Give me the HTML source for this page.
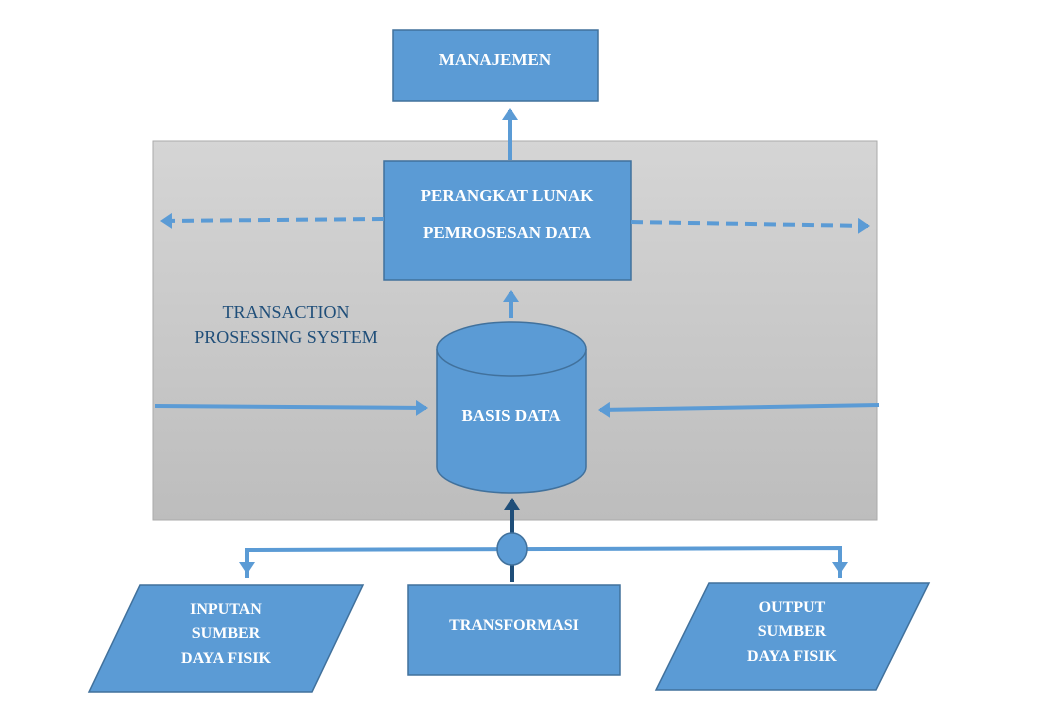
<!DOCTYPE html>
<html><head><meta charset="utf-8"><style>
html,body{margin:0;padding:0;background:#fff;}
svg{display:block;}
text{font-family:"Liberation Serif",serif;}
</style></head><body>
<svg width="1049" height="703" viewBox="0 0 1049 703" xmlns="http://www.w3.org/2000/svg">
<defs>
<linearGradient id="g" x1="0" y1="0" x2="0" y2="1">
<stop offset="0" stop-color="#d5d5d5"/><stop offset="1" stop-color="#bdbdbd"/>
</linearGradient>
<marker id="a" markerWidth="4" markerHeight="4" refX="2.5" refY="2" orient="auto" markerUnits="strokeWidth">
<path d="M0,0 L3,2 L0,4 z" fill="#5b9bd5"/></marker>
<marker id="ad" markerWidth="4" markerHeight="4" refX="2.5" refY="2" orient="auto" markerUnits="strokeWidth">
<path d="M0,0 L3,2 L0,4 z" fill="#1f4e79"/></marker>
</defs>
<rect x="153" y="141" width="724" height="379" fill="url(#g)" stroke="#aaa" stroke-width="1"/>
<!-- manajemen -->
<rect x="393" y="30" width="205" height="71" fill="#5b9bd5" stroke="#41719c" stroke-width="1.5"/>
<text x="495" y="65" text-anchor="middle" fill="#fff" font-weight="bold" font-size="17">MANAJEMEN</text>
<line x1="510" y1="160" x2="510" y2="110" stroke="#5b9bd5" stroke-width="4" marker-end="url(#a)"/>
<!-- perangkat -->
<rect x="384" y="161" width="247" height="119" fill="#5b9bd5" stroke="#41719c" stroke-width="1.5"/>
<text x="507" y="201" text-anchor="middle" fill="#fff" font-weight="bold" font-size="17">PERANGKAT LUNAK</text>
<text x="507" y="238" text-anchor="middle" fill="#fff" font-weight="bold" font-size="17">PEMROSESAN DATA</text>
<line x1="384" y1="219" x2="162" y2="221" stroke="#5b9bd5" stroke-width="4" stroke-dasharray="12,7" marker-end="url(#a)"/>
<line x1="631" y1="222" x2="868" y2="226" stroke="#5b9bd5" stroke-width="4" stroke-dasharray="12,7" marker-end="url(#a)"/>
<line x1="511" y1="318" x2="511" y2="292" stroke="#5b9bd5" stroke-width="4" marker-end="url(#a)"/>
<text x="286" y="318" text-anchor="middle" fill="#1f4e79" font-size="18">TRANSACTION</text>
<text x="286" y="343" text-anchor="middle" fill="#1f4e79" font-size="18">PROSESSING SYSTEM</text>
<!-- cylinder -->
<path d="M437,349 L437,467 A74.5,26 0 0 0 586,467 L586,349" fill="#5b9bd5" stroke="#41719c" stroke-width="1.5"/>
<ellipse cx="511.5" cy="349" rx="74.5" ry="27" fill="#5b9bd5" stroke="#41719c" stroke-width="1.5"/>
<text x="511" y="421" text-anchor="middle" fill="#fff" font-weight="bold" font-size="17">BASIS DATA</text>
<line x1="155" y1="406" x2="426" y2="408" stroke="#5b9bd5" stroke-width="4" marker-end="url(#a)"/>
<line x1="879" y1="405" x2="600" y2="410" stroke="#5b9bd5" stroke-width="4" marker-end="url(#a)"/>
<!-- bottom connectors -->
<line x1="512" y1="582" x2="512" y2="500" stroke="#1f4e79" stroke-width="4" marker-end="url(#ad)"/>
<polyline points="247,578 247,550 840,548 840,578" fill="none" stroke="#5b9bd5" stroke-width="4"/>
<line x1="247" y1="560" x2="247" y2="572" stroke="#5b9bd5" stroke-width="4" marker-end="url(#a)"/>
<line x1="840" y1="560" x2="840" y2="572" stroke="#5b9bd5" stroke-width="4" marker-end="url(#a)"/>
<ellipse cx="512" cy="549" rx="15" ry="16" fill="#5b9bd5" stroke="#41719c" stroke-width="1.5"/>
<!-- shapes -->
<polygon points="140,585 363,585 312,692 89,692" fill="#5b9bd5" stroke="#41719c" stroke-width="1.5"/>
<text x="226" y="614" text-anchor="middle" fill="#fff" font-weight="bold" font-size="16">INPUTAN</text>
<text x="226" y="638" text-anchor="middle" fill="#fff" font-weight="bold" font-size="16">SUMBER</text>
<text x="226" y="663" text-anchor="middle" fill="#fff" font-weight="bold" font-size="16">DAYA FISIK</text>
<rect x="408" y="585" width="212" height="90" fill="#5b9bd5" stroke="#41719c" stroke-width="1.5"/>
<text x="514" y="630" text-anchor="middle" fill="#fff" font-weight="bold" font-size="16">TRANSFORMASI</text>
<polygon points="709,583 929,583 876,690 656,690" fill="#5b9bd5" stroke="#41719c" stroke-width="1.5"/>
<text x="792" y="612" text-anchor="middle" fill="#fff" font-weight="bold" font-size="16">OUTPUT</text>
<text x="792" y="636" text-anchor="middle" fill="#fff" font-weight="bold" font-size="16">SUMBER</text>
<text x="792" y="661" text-anchor="middle" fill="#fff" font-weight="bold" font-size="16">DAYA FISIK</text>
</svg>
</body></html>
